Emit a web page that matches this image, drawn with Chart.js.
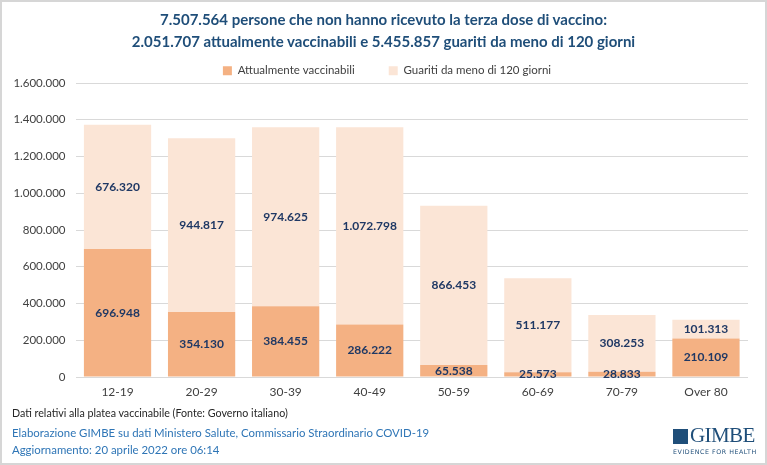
<!DOCTYPE html>
<html>
<head>
<meta charset="utf-8">
<script src="https://cdn.jsdelivr.net/npm/chart.js@4.4.1/dist/chart.umd.min.js"></script>
<style>
  html, body { margin: 0; padding: 0; background: #fff; }
  #wrap { position: relative; width: 767px; height: 465px; box-sizing: border-box; border: 2px solid #d6d6d6; overflow: hidden; font-family: Lato, "Open Sans", sans-serif; }
  #chart { position: absolute; left: 0; top: 0; }
  .title { position: absolute; left: 0; width: 763px; text-align: center; color: #1F4E79; font-weight: bold; font-size: 15px; line-height: 18px; }
  .foot { position: absolute; left: 10px; white-space: nowrap; line-height: 16px; }
  #logo { position: absolute; left: 671px; top: 423px; color: #1F4E79; }
</style>
</head>
<body>
<div id="wrap">
  <canvas id="chart" width="763" height="461"></canvas>
  <div class="title" style="top:8px">7.507.564 persone che non hanno ricevuto la terza dose di vaccino:</div>
  <div class="title" style="top:30px">2.051.707 attualmente vaccinabili e 5.455.857 guariti da meno di 120 giorni</div>
  <div class="foot" style="top:403px; font-size:10.7px; color:#262626;">Dati relativi alla platea vaccinabile (Fonte: Governo italiano)</div>
  <div class="foot" style="top:423px; font-size:11.4px; color:#2E75B6;">Elaborazione GIMBE su dati Ministero Salute, Commissario Straordinario COVID-19</div>
  <div class="foot" style="top:440px; font-size:11.4px; color:#2E75B6;">Aggiornamento: 20 aprile 2022 ore 06:14</div>
  <div id="logo">
    <div style="display:flex;align-items:center;">
      <div style="width:15px;height:15px;background:#1F4E79;margin-right:2px;margin-top:1px;"></div>
      <span style="font-family:'Liberation Serif',serif;font-size:21px;line-height:21px;letter-spacing:-0.6px;">GIMBE</span>
    </div>
    <div style="font-size:6.3px;letter-spacing:0.55px;font-family:'DejaVu Sans',sans-serif;margin-top:2px;white-space:nowrap;">EVIDENCE FOR HEALTH</div>
  </div>
</div>
<script>
const categories = ["12-19", "20-29", "30-39", "40-49", "50-59", "60-69", "70-79", "Over 80"];
const vaccinabili = [696948, 354130, 384455, 286222, 65538, 25573, 28833, 210109];
const guariti = [676320, 944817, 974625, 1072798, 866453, 511177, 308253, 101313];
const seriesNames = ["Attualmente vaccinabili", "Guariti da meno di 120 giorni"];
const yTicks = [0, 200000, 400000, 600000, 800000, 1000000, 1200000, 1400000, 1600000];

const fmt = v => v.toString().replace(/\B(?=(\d{3})+(?!\d))/g, ".");
const FONT = "Lato, 'Open Sans', sans-serif";

const labelPlugin = {
  id: "segLabels",
  afterDatasetsDraw(chart) {
    const ctx = chart.ctx;
    ctx.save();
    ctx.font = "bold 12px " + FONT;
    ctx.fillStyle = "#1F3864";
    ctx.textAlign = "center";
    ctx.textBaseline = "middle";
    chart.data.datasets.forEach((ds, di) => {
      const meta = chart.getDatasetMeta(di);
      meta.data.forEach((bar, i) => {
        const y = (bar.y + bar.base) / 2;
        ctx.fillText(fmt(ds.data[i]), bar.x, y);
      });
    });
    ctx.restore();
  }
};

const legendShift = {
  id: "legendShift",
  afterLayout(chart) {
    if (chart.legend) { chart.legend.left += 12; chart.legend.right += 12; }
  }
};

new Chart(document.getElementById("chart"), {
  type: "bar",
  data: {
    labels: categories,
    datasets: [
      { label: seriesNames[0], data: vaccinabili, backgroundColor: "#F4B183", barPercentage: 0.8, categoryPercentage: 1 },
      { label: seriesNames[1], data: guariti, backgroundColor: "#FBE5D6", barPercentage: 0.8, categoryPercentage: 1 }
    ]
  },
  options: {
    responsive: false,
    animation: false,
    layout: { padding: { top: 29, bottom: 58, left: 0, right: 17 } },
    plugins: {
      legend: {
        position: "top",
        maxHeight: 52,
        labels: { boxWidth: 9, boxHeight: 9, padding: 34, color: "#404040", font: { size: 11.5, family: FONT } }
      },
      tooltip: { enabled: false }
    },
    scales: {
      x: {
        stacked: true,
        grid: { display: false, drawTicks: false },
        border: { display: false },
        ticks: { color: "#404040", padding: 8, font: { size: 12, family: FONT } },
        afterFit(s) { s.height = 28; }
      },
      y: {
        stacked: true,
        min: 0, max: 1600000,
        afterBuildTicks(s) { s.ticks = yTicks.map(v => ({ value: v })); },
        grid: { color: "#d9d9d9", drawTicks: false },
        border: { display: false },
        ticks: { color: "#404040", padding: 10, font: { size: 11.5, family: FONT }, callback: v => fmt(v) },
        afterFit(s) { s.width = 73.5; }
      }
    }
  },
  plugins: [labelPlugin, legendShift]
});
</script>
</body>
</html>
